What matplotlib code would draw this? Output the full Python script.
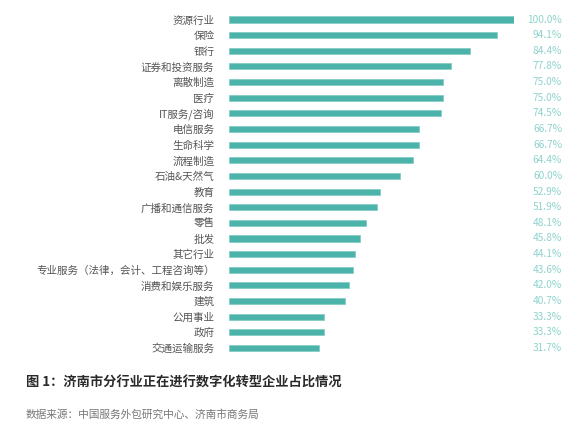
import matplotlib
matplotlib.use("Agg")
import matplotlib.pyplot as plt
import matplotlib.transforms as mtransforms

plt.rcParams['font.family'] = ['Noto Sans CJK SC', 'DejaVu Sans']

categories = [
    "资源行业", "保险", "银行", "证券和投资服务", "离散制造", "医疗",
    "IT服务/咨询", "电信服务", "生命科学", "流程制造", "石油&天然气",
    "教育", "广播和通信服务", "零售", "批发", "其它行业",
    "专业服务（法律，会计、工程咨询等）", "消费和娱乐服务", "建筑",
    "公用事业", "政府", "交通运输服务",
]
values = [100.0, 94.1, 84.4, 77.8, 75.0, 75.0, 74.5, 66.7, 66.7, 64.4, 60.0,
          52.9, 51.9, 48.1, 45.8, 44.1, 43.6, 42.0, 40.7, 33.3, 33.3, 31.7]
value_labels = [f"{v:.1f}%" for v in values]

title = "图 1：济南市分行业正在进行数字化转型企业占比情况"
source = "数据来源：中国服务外包研究中心、济南市商务局"

bar_color = "#4cb3ab"
edge_color = "#86cec8"
label_color = "#8ed3cc"

fig = plt.figure(figsize=(5.8, 4.37), dpi=100)
ax = fig.add_axes([229 / 580, 1 - 355.8 / 437, 285 / 580, (355.8 - 11.7) / 437])

pos = list(range(len(categories)))
ax.barh(pos, values, height=0.39, color=bar_color, edgecolor=edge_color, linewidth=0.6)
ax.set_xlim(0, 100)
ax.set_ylim(len(categories) - 0.5, -0.5)

ax.set_yticks(pos)
ax.set_yticklabels(categories, fontsize=7.6, color="#555555")
ax.tick_params(axis="y", length=0, pad=10.5)
ax.set_xticks([])
for s in ax.spines.values():
    s.set_visible(False)

# value labels are right-aligned in a column near the right edge
trans = mtransforms.blended_transform_factory(fig.transFigure, ax.transData)
for p, lab in zip(pos, value_labels):
    ax.text(562 / 580, p, lab, transform=trans, ha="right", va="center",
            fontsize=7.3, color=label_color)

fig.text(26 / 580, 1 - 383 / 437, title, fontsize=9.5, fontweight="bold",
         color="#2a2a2a", va="center", ha="left")
fig.text(26 / 580, 1 - 415 / 437, source, fontsize=7.7, color="#777777",
         va="center", ha="left")

fig.savefig("out.png", dpi=100)
